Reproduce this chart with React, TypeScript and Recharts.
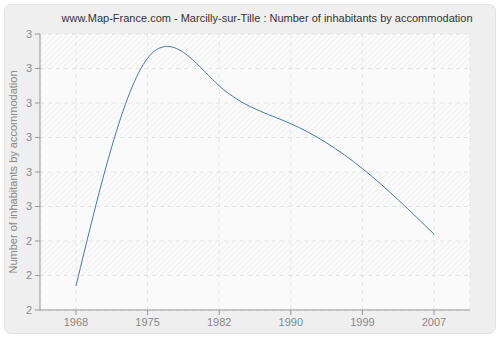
import React from "react";
import { LineChart, Line, XAxis, YAxis, CartesianGrid, Customized } from "recharts";

const years = ["1968", "1975", "1982", "1990", "1999", "2007"];
const inhabitantsPerHome = [2.27, 2.93, 2.85, 2.74, 2.61, 2.42];
const yTicks = [2.2, 2.3, 2.4, 2.5, 2.6, 2.7, 2.8, 2.9, 3.0];
const yTickLabels = ["2", "2", "2", "3", "3", "3", "3", "3", "3"];
const title = "www.Map-France.com - Marcilly-sur-Tille : Number of inhabitants by accommodation";
const yLabel = "Number of inhabitants by accommodation";

const data = years.map((y, i) => ({ year: y, value: inhabitantsPerHome[i] }));

const FONT = "'Liberation Sans', Arial, sans-serif";

const Title = () => (
  <text x={267} y={21.5} textAnchor="middle" fontSize={11} fontFamily={FONT} fill="#333">
    {title}
  </text>
);

const YLabel = (props: any) => {
  const vb = props.viewBox || { x: 0, y: 34, width: 40, height: 276 };
  const cx = 16.5;
  const cy = vb.y + vb.height / 2;
  return (
    <text
      x={cx}
      y={cy}
      transform={`rotate(-90, ${cx}, ${cy})`}
      textAnchor="middle"
      fontSize={11}
      fontFamily={FONT}
      fill="#888"
    >
      {yLabel}
    </text>
  );
};

export default function App() {
  return (
    <div style={{ position: "absolute", left: 0, top: 0, width: 500, height: 340, background: "#fff" }}>
      <svg width={0} height={0} style={{ position: "absolute" }}>
        <defs>
          <pattern id="hatch" width="4" height="4" patternUnits="userSpaceOnUse" patternTransform="rotate(45)">
            <rect width="4" height="4" fill="#fbfbfb" />
            <line x1="0" y1="0" x2="0" y2="4" stroke="#ececec" strokeWidth="1.4" />
          </pattern>
        </defs>
      </svg>
      <div
        style={{
          position: "absolute",
          left: 4,
          top: 4,
          width: 490,
          height: 328,
          background: "#efefef",
          border: "1px solid #e2e2e2",
          borderRadius: 7,
        }}
      />
      <div style={{ position: "absolute", left: 0, top: 0 }}>
        <LineChart width={500} height={340} data={data} margin={{ top: 34, right: 30, bottom: 0, left: 0 }}>
          <CartesianGrid
            stroke="#e4e4e4"
            strokeDasharray="4 4"
            fill="#fafafa"
            fillOpacity={1}
            horizontalFill={["url(#hatch)", "#fafafa"]}
          />
          <XAxis
            dataKey="year"
            padding={{ left: 36, right: 36 }}
            tickLine={{ stroke: "#999" }}
            axisLine={{ stroke: "#999" }}
            tickSize={5}
            height={30}
            tick={{ fill: "#888", fontSize: 11, fontFamily: FONT }}
            tickMargin={3}
          />
          <YAxis
            domain={[2.2, 3.0]}
            ticks={yTicks}
            width={40}
            interval={0}
            tickFormatter={(v: number) => {
              const i = yTicks.findIndex((t) => Math.abs(t - v) < 1e-6);
              return i >= 0 ? yTickLabels[i] : "";
            }}
            tickLine={{ stroke: "#999" }}
            axisLine={{ stroke: "#999" }}
            tickSize={5}
            tick={{ fill: "#888", fontSize: 11, fontFamily: FONT }}
            tickMargin={3}
            label={<YLabel />}
          />
          <Line
            type="natural"
            dataKey="value"
            stroke="#4a76a8"
            strokeWidth={1}
            dot={false}
            activeDot={false}
            isAnimationActive={false}
          />
          <Customized component={Title} />
        </LineChart>
      </div>
    </div>
  );
}
